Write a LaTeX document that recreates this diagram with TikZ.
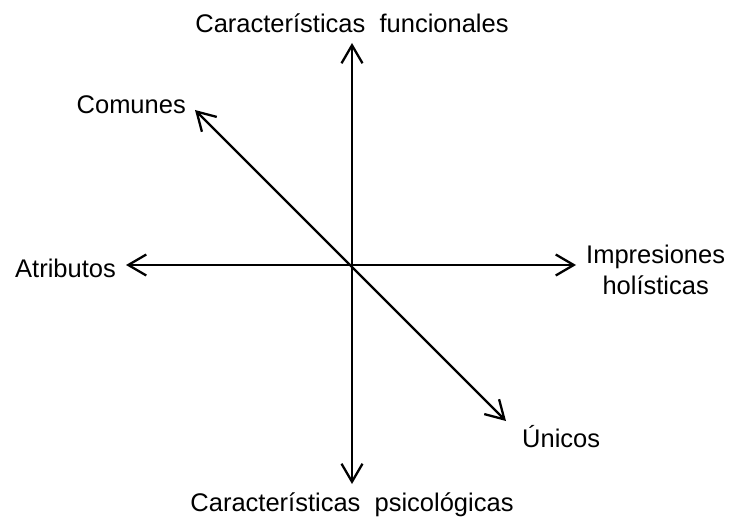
\documentclass[tikz,border=0pt]{standalone}
\usepackage{fontspec}
\setmainfont{Liberation Sans}
\usetikzlibrary{arrows.meta}
\begin{document}
\begin{tikzpicture}[x=1pt,y=-1pt,
  axis/.style={line width=2.3pt,{Straight Barb[length=18pt,width=21pt,line width=2.3pt]}-{Straight Barb[length=18pt,width=21pt,line width=2.3pt]}},
  lbl/.style={font=\fontsize{25.5}{31}\selectfont,inner sep=0pt,align=center}]
\useasboundingbox (0,0) rectangle (730,521);
\coordinate (top) at (352,43);
\coordinate (bot) at (352,484);
\coordinate (lft) at (126,265);
\coordinate (rgt) at (576,265);
\coordinate (tl) at (195,110);
\coordinate (br) at (506,421);
\draw[axis] (top) -- (bot);
\draw[axis] (lft) -- (rgt);
\draw[axis] (tl) -- (br);
\node[lbl] (cf) at (352,23) {Características\ \ funcionales};
\node[lbl] (cp) at (352,505) {Características\ \ psicológicas};
\node[lbl,anchor=east] (com) at (186,105) {Comunes};
\node[lbl,anchor=east] (atr) at (116,268) {Atributos};
\node[lbl,anchor=west] (imp) at (586,270) {Impresiones\\holísticas};
\node[lbl,anchor=west] (uni) at (522,437) {Únicos};
\end{tikzpicture}
\end{document}
